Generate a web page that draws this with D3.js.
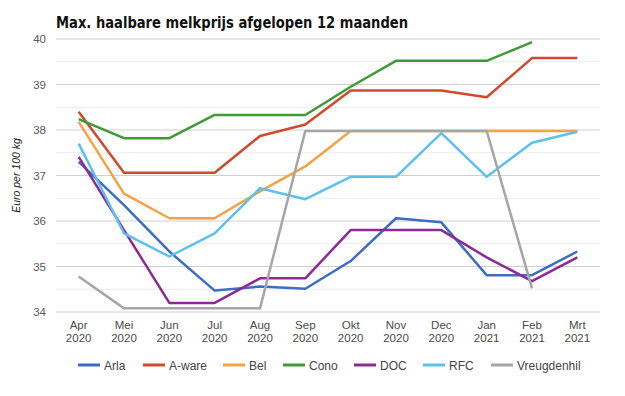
<!DOCTYPE html>
<html>
<head>
<meta charset="utf-8">
<script src="https://cdn.jsdelivr.net/npm/d3@7"></script>
<style>
  body { margin: 0; background: #fff; }
  svg { display: block; }
</style>
</head>
<body>
<svg id="chart" width="625" height="396"></svg>
<script>
const months = ["Apr", "Mei", "Jun", "Jul", "Aug", "Sep", "Okt", "Nov", "Dec", "Jan", "Feb", "Mrt"];
const years = ["2020", "2020", "2020", "2020", "2020", "2020", "2020", "2020", "2020", "2021", "2021", "2021"];
const yTicks = [34, 35, 36, 37, 38, 39, 40];

const arla        = [37.3, 36.35, 35.33, 34.47, 34.56, 34.51, 35.12, 36.06, 35.97, 34.81, 34.81, 35.33];
const aware       = [38.4, 37.06, 37.06, 37.06, 37.87, 38.12, 38.87, 38.87, 38.87, 38.72, 39.58, 39.58];
const bel         = [38.18, 36.6, 36.06, 36.06, 36.65, 37.2, 37.98, 37.98, 37.98, 37.98, 37.98, 37.98];
const cono        = [38.24, 37.82, 37.82, 38.33, 38.33, 38.33, 38.95, 39.52, 39.52, 39.52, 39.93, null];
const doc         = [37.41, 35.8, 34.2, 34.2, 34.74, 34.74, 35.8, 35.8, 35.8, 35.2, 34.68, 35.2];
const rfc         = [37.7, 35.73, 35.22, 35.73, 36.72, 36.48, 36.97, 36.97, 37.93, 36.97, 37.72, 37.96];
const vreugdenhil = [34.78, 34.08, 34.08, 34.08, 34.08, 37.98, 37.98, 37.98, 37.98, 37.98, 34.52, null];

const seriesNames = ["Arla", "A-ware", "Bel", "Cono", "DOC", "RFC", "Vreugdenhil"];
const seriesValues = [arla, aware, bel, cono, doc, rfc, vreugdenhil];
const colors = ["#3d6cc3", "#cf4a2b", "#f2a343", "#3f9a35", "#8b2a95", "#5cc0ef", "#a6a6a6"];

const svg = d3.select("#chart");
const margin = {left: 56, right: 25, top: 39, bottom: 84};
const width = 625, height = 396;

const x = d3.scalePoint()
    .domain(months.map((m, i) => i))
    .range([margin.left, width - margin.right])
    .padding(0.5);

const y = d3.scaleLinear()
    .domain([34, 40])
    .range([height - margin.bottom, margin.top]);

// minor gridlines
svg.append("g")
  .selectAll("line")
  .data(d3.range(34.5, 40, 1))
  .enter().append("line")
    .attr("x1", margin.left).attr("x2", width - margin.right)
    .attr("y1", d => y(d)).attr("y2", d => y(d))
    .attr("stroke", "#ececec").attr("stroke-width", 1);

// major gridlines
svg.append("g")
  .selectAll("line")
  .data(yTicks)
  .enter().append("line")
    .attr("x1", margin.left).attr("x2", width - margin.right)
    .attr("y1", d => y(d)).attr("y2", d => y(d))
    .attr("stroke", "#d0d0d0").attr("stroke-width", 1);

// y labels
svg.append("g")
  .selectAll("text")
  .data(yTicks)
  .enter().append("text")
    .attr("x", 46).attr("y", d => y(d) + 4)
    .attr("text-anchor", "end")
    .attr("font-family", "Liberation Sans, Arial, sans-serif")
    .attr("font-size", 11.5)
    .attr("fill", "#5a5a5a")
    .text(d => d);

// x labels
const xl = svg.append("g")
  .selectAll("text")
  .data(months)
  .enter().append("text")
    .attr("text-anchor", "middle")
    .attr("font-family", "Liberation Sans, Arial, sans-serif")
    .attr("font-size", 11.5)
    .attr("fill", "#4a4a4a");
xl.append("tspan").attr("x", (d, i) => x(i)).attr("y", 329).text(d => d);
xl.append("tspan").attr("x", (d, i) => x(i)).attr("y", 342).text((d, i) => years[i]);

// y axis title
svg.append("text")
  .attr("transform", "translate(20," + y(37) + ") rotate(-90)")
  .attr("text-anchor", "middle")
  .attr("font-family", "Liberation Sans, Arial, sans-serif")
  .attr("font-size", 10.5)
  .attr("font-style", "italic")
  .attr("fill", "#222")
  .text("Euro per 100 kg");

// lines
const line = d3.line()
    .defined(d => d != null)
    .x((d, i) => x(i))
    .y(d => y(d));

svg.append("g")
  .selectAll("path")
  .data(seriesValues)
  .enter().append("path")
    .attr("d", d => line(d))
    .attr("fill", "none")
    .attr("stroke", (d, i) => colors[i])
    .attr("stroke-width", 2.5)
    .attr("stroke-linejoin", "round");

// title
svg.append("text")
  .attr("x", 56).attr("y", 28)
  .attr("font-family", "DejaVu Sans, Verdana, sans-serif")
  .attr("font-weight", "bold")
  .attr("font-size", 16.5)
  .attr("textLength", 352)
  .attr("lengthAdjust", "spacingAndGlyphs")
  .attr("fill", "#111")
  .text("Max. haalbare melkprijs afgelopen 12 maanden");

// legend
const legendX = [78, 143, 223, 283, 354, 423, 491];
const legend = svg.append("g")
  .selectAll("g")
  .data(seriesNames)
  .enter().append("g")
    .attr("transform", (d, i) => "translate(" + legendX[i] + ",365)");
legend.append("line")
  .attr("x1", 0).attr("x2", 22).attr("y1", 0).attr("y2", 0)
  .attr("stroke", (d, i) => colors[i]).attr("stroke-width", 3);
legend.append("text")
  .attr("x", 26).attr("y", 4.5)
  .attr("font-family", "Liberation Sans, Arial, sans-serif")
  .attr("font-size", 12)
  .attr("fill", "#444")
  .text(d => d);
</script>
</body>
</html>
